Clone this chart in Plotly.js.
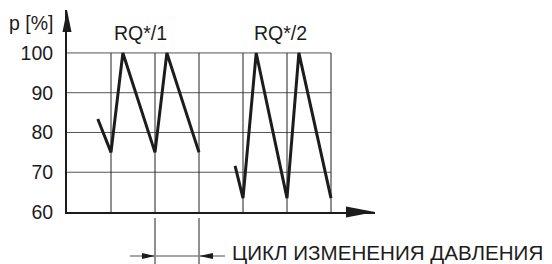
<!DOCTYPE html>
<html>
<head>
<meta charset="utf-8">
<script src="https://cdn.plot.ly/plotly-3.0.1.min.js"></script>
<style>html,body{margin:0;padding:0;background:#fff;}#chart{width:552px;height:264px;}</style>
</head>
<body>
<div id="chart"></div>
<script>
// ---- data ----
const cycle1X = [0.70, 1.0, 1.27, 2.0, 2.27, 3.0];
const cycle1Y = [83.4, 75, 100, 75, 100, 75];
const cycle2X = [3.82, 4.0, 4.30, 5.0, 5.27, 6.0];
const cycle2Y = [71.6, 63.5, 100, 63.5, 100, 63.5];
const yTicks = [60, 70, 80, 90, 100];
const gridY = [70, 80, 90, 100];
const gridX = [1, 2, 3, 4, 5, 6];
const seriesLabels = ["RQ*/1", "RQ*/2"];
const labelX = [1.68, 4.86];
const yAxisTitle = "p [%]";
const cycleLabel = "ЦИКЛ ИЗМЕНЕНИЯ ДАВЛЕНИЯ";
const cycleStart = 2, cycleEnd = 3;

const X_MAX = 7, Y_MIN = 60, Y_MAX = 110.8;
const FONT = "Liberation Sans, Arial, sans-serif";
const INK = "#1c1c1c";
const px2paperY = py => (212 - py) / 202;
const dx2paper = x => x / X_MAX;

const lineStyle = {color: INK, width: 3};
const traces = [
  {x: cycle1X, y: cycle1Y, mode: "lines", line: lineStyle, hoverinfo: "skip"},
  {x: cycle2X, y: cycle2Y, mode: "lines", line: lineStyle, hoverinfo: "skip"}
];

const shapes = [];
gridY.forEach(v => shapes.push({type: "line", xref: "x", yref: "y", x0: 0, x1: 6, y0: v, y1: v,
  line: {color: "#555", width: 1}, layer: "below"}));
gridX.forEach(v => shapes.push({type: "line", xref: "x", yref: "y", x0: v, x1: v, y0: 60, y1: 100,
  line: {color: "#222", width: 1}, layer: "below"}));
// axis arrowheads
shapes.push({type: "path", xref: "paper", yref: "paper", xsizemode: "pixel", ysizemode: "pixel",
  xanchor: 0, yanchor: 1, path: "M0,0 L-4.5,-22 L4.5,-22 Z", fillcolor: INK, line: {width: 0}});
shapes.push({type: "path", xref: "paper", yref: "paper", xsizemode: "pixel", ysizemode: "pixel",
  xanchor: 1, yanchor: 0, path: "M0,0 L-29,5.5 L-29,-5.5 Z", fillcolor: INK, line: {width: 0}});
// dimension (cycle) marks
[cycleStart, cycleEnd].forEach(v => shapes.push({type: "line", xref: "paper", yref: "paper",
  x0: dx2paper(v), x1: dx2paper(v), y0: px2paperY(218), y1: px2paperY(265), line: {color: "#222", width: 1}}));
shapes.push({type: "line", xref: "paper", yref: "paper", x0: dx2paper(1.43), x1: dx2paper(3.59),
  y0: px2paperY(256), y1: px2paperY(256), line: {color: "#888", width: 1.5}});
shapes.push({type: "path", xref: "paper", yref: "paper", xsizemode: "pixel", ysizemode: "pixel",
  xanchor: dx2paper(cycleStart), yanchor: px2paperY(256), path: "M0,0 L-13,3 L-13,-3 Z", fillcolor: INK, line: {width: 0}});
shapes.push({type: "path", xref: "paper", yref: "paper", xsizemode: "pixel", ysizemode: "pixel",
  xanchor: dx2paper(cycleEnd), yanchor: px2paperY(256), path: "M0,0 L14,3 L14,-3 Z", fillcolor: INK, line: {width: 0}});

const annotations = [
  {text: yAxisTitle, xref: "paper", yref: "paper", x: -12/308, y: px2paperY(23), xanchor: "right", yanchor: "middle",
   showarrow: false, font: {family: FONT, size: 19.5, color: INK}},
  {text: cycleLabel, xref: "paper", yref: "paper", x: dx2paper(3.75), y: px2paperY(264), xanchor: "left", yanchor: "bottom",
   borderpad: 0, borderwidth: 0, showarrow: false, font: {family: FONT, size: 20.6, color: INK}}
];
seriesLabels.forEach((t, i) => annotations.push({text: t, xref: "x", yref: "y", x: labelX[i], y: 105,
  xanchor: "center", yanchor: "middle", showarrow: false, font: {family: FONT, size: 19.5, color: INK}}));

const layout = {
  width: 552, height: 264,
  margin: {l: 67, r: 177, t: 10, b: 52, pad: 0},
  paper_bgcolor: "#fff", plot_bgcolor: "#fff",
  showlegend: false,
  xaxis: {range: [0, X_MAX], showgrid: false, zeroline: false, showticklabels: false, ticks: "",
    showline: true, linecolor: INK, linewidth: 2, fixedrange: true},
  yaxis: {range: [Y_MIN, Y_MAX], showgrid: false, zeroline: false, tickvals: yTicks, ticktext: yTicks.map(String),
    ticks: "outside", ticklen: 8, tickcolor: "rgba(0,0,0,0)", showline: true, linecolor: INK, linewidth: 2,
    tickfont: {family: FONT, size: 19.5, color: INK}, fixedrange: true},
  shapes: shapes,
  annotations: annotations
};
Plotly.newPlot("chart", traces, layout, {staticPlot: true, displayModeBar: false});
</script>
</body>
</html>
